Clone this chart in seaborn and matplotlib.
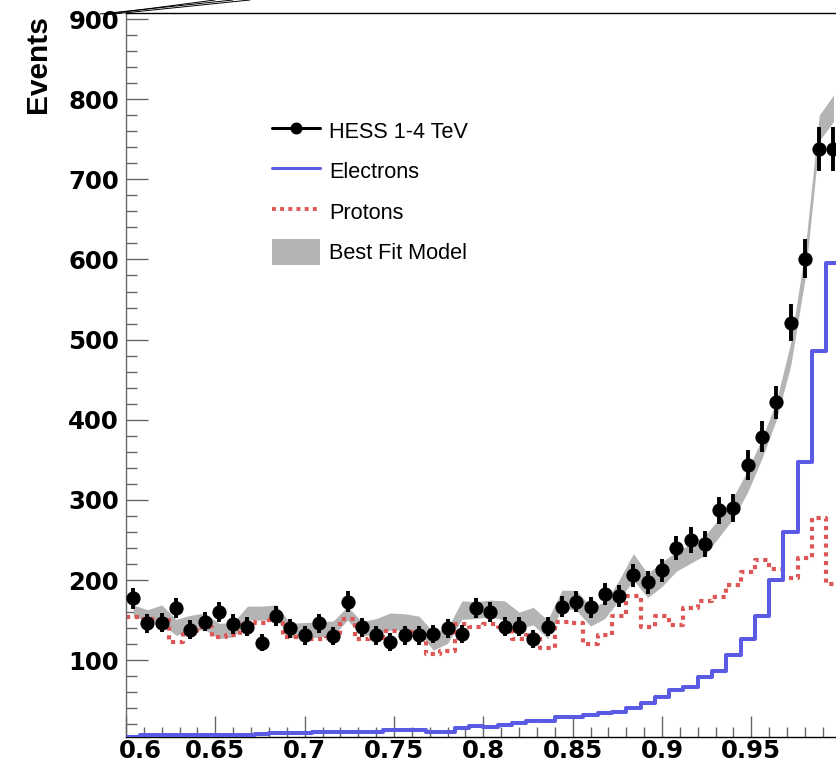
import numpy as np
import matplotlib
matplotlib.use("Agg")
import matplotlib.pyplot as plt
import matplotlib.transforms as mtransforms
import seaborn as sns
from matplotlib.lines import Line2D
from matplotlib.patches import Patch
from matplotlib.ticker import MultipleLocator, FixedLocator, FuncFormatter

# Histogram binning of the shower-shape variable
bin_lo, bin_hi, n_bins = 0.6, 1.0, 50
edges = np.linspace(bin_lo, bin_hi, n_bins + 1)
centers = 0.5 * (edges[:-1] + edges[1:])

# HESS data, 1-4 TeV (events per bin)
hess_counts = [177, 146, 147, 165, 138, 148, 160, 145, 142, 122,
               155, 140, 131, 146, 130, 173, 141, 131, 123, 131,
               131, 133, 140, 133, 165, 160, 142, 142, 127, 142,
               167, 173, 166, 183, 180, 206, 197, 212, 240, 250,
               245, 287, 290, 344, 379, 422, 521, 601, 738, 738]

# Simulated electron template
electrons = [4, 7, 7, 7, 7, 7, 7, 7, 7, 8,
             9.5, 9.5, 9.5, 11, 11, 11, 11, 11, 13, 13,
             13, 11, 11, 15, 18, 17, 19, 22, 24, 24,
             29, 29, 32, 34.5, 36, 40, 46, 54, 62.5, 67,
             79, 87, 107, 127, 155, 200, 260, 347, 486, 596]

# Simulated proton template
protons = [154, 151, 150, 123, 137, 141, 129, 131, 148, 147,
           150, 129, 126, 127, 128, 151, 126, 128, 137, 135,
           130, 108, 112, 145, 142, 145, 142, 127, 131, 115,
           148, 146, 120, 132, 155, 180, 142, 155, 144, 165,
           174, 179, 194, 210, 225, 214, 203, 228, 278, 195]

# Best-fit model band (lower / upper edge)
model_lo = [154, 150, 146, 131, 137.5, 138, 127, 129, 150, 150,
            151, 129, 127, 129, 131, 150, 130, 133, 137.5, 137.5,
            135, 112.5, 121, 151, 152, 154, 150, 140, 144, 127,
            165, 162.5, 142.5, 152, 175, 200, 178, 192, 211, 221,
            231, 254, 277, 310, 352, 400, 467, 575, 748, 772]
model_hi = [169, 163, 169, 151, 156, 159, 146, 147, 167.5, 167.5,
            169, 146, 147, 148, 149, 167, 148, 152, 159, 158,
            155, 135, 140, 174, 173, 175, 174, 160, 166, 150,
            187.5, 187, 167, 172, 200, 233, 208, 223, 235, 245,
            256, 276, 304, 337, 377, 423, 496, 610, 780, 805]

legend_labels = ["HESS 1-4 TeV", "Electrons", "Protons", "Best Fit Model"]

c_band = "#b4b4b4"
c_prot = "#dd5656"
c_elec = "#5a5ae2"
c_tick = "#666666"
prot_dash = (0, (1, 1.1))

sns.set_theme(style="white")
plt.rcParams["font.family"] = ["DejaVu Sans"]
plt.rcParams["font.weight"] = "bold"
plt.rcParams["text.color"] = "black"
plt.rcParams["axes.labelcolor"] = "black"

W, H = 836, 768
fig = plt.figure(figsize=(W / 100, H / 100), dpi=100)
ax = fig.add_axes([126 / W, 31 / H, 710 / W, 724 / H])

# model band
ax.fill_between(centers, model_lo, model_hi, color=c_band, lw=0, zorder=1)

# step histograms drawn from the bin edges
sns.lineplot(x=edges, y=np.append(protons, protons[-1]), drawstyle="steps-post",
             color=c_prot, lw=3.0, ls=prot_dash, ax=ax, zorder=2)
sns.lineplot(x=edges, y=np.append(electrons, electrons[-1]), drawstyle="steps-post",
             color=c_elec, lw=2.9, ax=ax, zorder=4)

# data points with Poisson errors
ax.errorbar(centers, hess_counts, yerr=np.sqrt(hess_counts), fmt="none",
            ecolor="black", elinewidth=2.8, capsize=0, zorder=5)
sns.scatterplot(x=centers, y=hess_counts, color="black", s=105, linewidth=0,
                ax=ax, zorder=6)

ax.set_xlim(0.6, 0.9974)
ax.set_ylim(4.2, 907.5)

ax.xaxis.set_major_locator(FixedLocator([0.6, 0.65, 0.7, 0.75, 0.8, 0.85, 0.9, 0.95]))
ax.xaxis.set_minor_locator(MultipleLocator(0.01))
ax.yaxis.set_major_locator(MultipleLocator(100))
ax.yaxis.set_minor_locator(MultipleLocator(20))
ax.xaxis.set_major_formatter(FuncFormatter(lambda v, p: f"{v:g}"))
ax.yaxis.set_major_formatter(FuncFormatter(lambda v, p: f"{v:g}"))

ax.tick_params(axis="both", which="both", direction="in", color=c_tick,
               width=1.0, bottom=True, left=True, top=False, right=False,
               labelsize=17.6, labelcolor="black")
ax.tick_params(axis="x", which="major", length=15, pad=1.5)
ax.tick_params(axis="x", which="minor", length=7)
ax.tick_params(axis="y", which="major", length=16, pad=5)
ax.tick_params(axis="y", which="minor", length=7.7)

ax.spines["right"].set_visible(False)
ax.spines["left"].set_color(c_tick)
ax.spines["left"].set_linewidth(1.0)
ax.spines["bottom"].set_color("black")
ax.spines["bottom"].set_linewidth(1.0)
ax.spines["top"].set_color("black")
ax.spines["top"].set_linewidth(1.0)

ax.set_xlabel("")
ax.set_ylabel("Events", loc="top", fontsize=21.5, fontweight="bold",
              color="black", family=["Liberation Sans", "DejaVu Sans"])
ax.yaxis.set_label_coords(-0.104, 0.997)

# shift the first x label to the right, as on the original frame
first = ax.xaxis.get_major_ticks()[0].label1
first.set_transform(first.get_transform() +
                    mtransforms.ScaledTranslation(10 / 72, 0, fig.dpi_scale_trans))

handles = [
    Line2D([], [], color="black", lw=2.2, marker="o", markersize=7.6),
    Line2D([], [], color=c_elec, lw=2.2),
    Line2D([], [], color=c_prot, lw=2.8, ls=prot_dash),
    Patch(facecolor=c_band, edgecolor="none"),
]
leg = ax.legend(handles, legend_labels, loc="upper left",
                bbox_to_anchor=(272 / W, 1 - 117.5 / H), bbox_transform=fig.transFigure,
                frameon=False, numpoints=1, handlelength=2.2, handleheight=1.5,
                labelspacing=0.65, handletextpad=0.45, borderpad=0, borderaxespad=0,
                prop={"family": ["Liberation Sans", "DejaVu Sans"], "size": 15.6,
                      "weight": "normal"})
for t in leg.get_texts():
    t.set_color("black")

# thin guide lines leaving the upper-left corner of the frame
for (x0, y0, x1, y1) in [(100, 14, 233, 0), (104, 15, 250, 0), (108, 14, 215, 0)]:
    fig.add_artist(Line2D([x0 / W, x1 / W], [1 - y0 / H, 1 - y1 / H],
                          transform=fig.transFigure, color="black", lw=0.7))

fig.savefig("out.png", dpi=100)
